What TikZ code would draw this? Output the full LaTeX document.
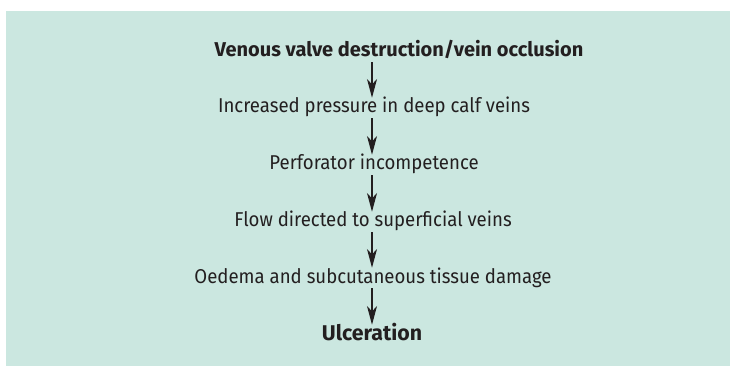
\documentclass[tikz,border=0pt]{standalone}
\usepackage{fontspec}
\setmainfont{Fira Sans}[FakeStretch=0.93]
\newfontfamily\headfont{Fira Sans}
\usetikzlibrary{arrows.meta}
\definecolor{panelgreen}{HTML}{CBE7E0}
\definecolor{inkgrey}{HTML}{231F20}

\begin{document}
\begin{tikzpicture}[x=0.75pt,y=-0.75pt,
	stepnode/.style={text=inkgrey,font=\fontsize{15}{17}\selectfont,inner sep=0pt,
		anchor=base,text height=11.25pt,text depth=3.75pt},
	keynode/.style={stepnode,font=\headfont\bfseries\fontsize{15}{17}\selectfont},
	flow/.style={draw=inkgrey,line width=0.8pt,-{Stealth[length=14pt,width=7.5pt,inset=4pt]}}]
			\useasboundingbox (0,0) rectangle (730,366);
			\fill[panelgreen] (6,11) rectangle (730,366);
			\node[keynode] (valve) at (399,57) {Venous valve destruction/vein occlusion};
			\node[stepnode] (pressure) at (374,113) {Increased pressure in deep calf veins};
			\node[stepnode] (perf) at (374,170) {Perforator incompetence};
			\node[stepnode] (super) at (373,227) {Flow directed to superficial veins};
			\node[stepnode] (oedema) at (373,283) {Oedema and subcutaneous tissue damage};
			\node[keynode,font=\headfont\bfseries\fontsize{16}{17}\selectfont] (ulcer) at (372,340) {Ulceration};
			\draw[flow] (valve.south -| 372,0) -- (pressure.north -| 372,0);
			\draw[flow] (pressure.south -| 372,0) -- (perf.north -| 372,0);
			\draw[flow] (perf.south -| 372,0) -- (super.north -| 372,0);
			\draw[flow] (super.south -| 372,0) -- (oedema.north -| 372,0);
			\draw[flow] (oedema.south -| 372,0) -- (ulcer.north -| 372,0);
		\end{tikzpicture}
\end{document}
